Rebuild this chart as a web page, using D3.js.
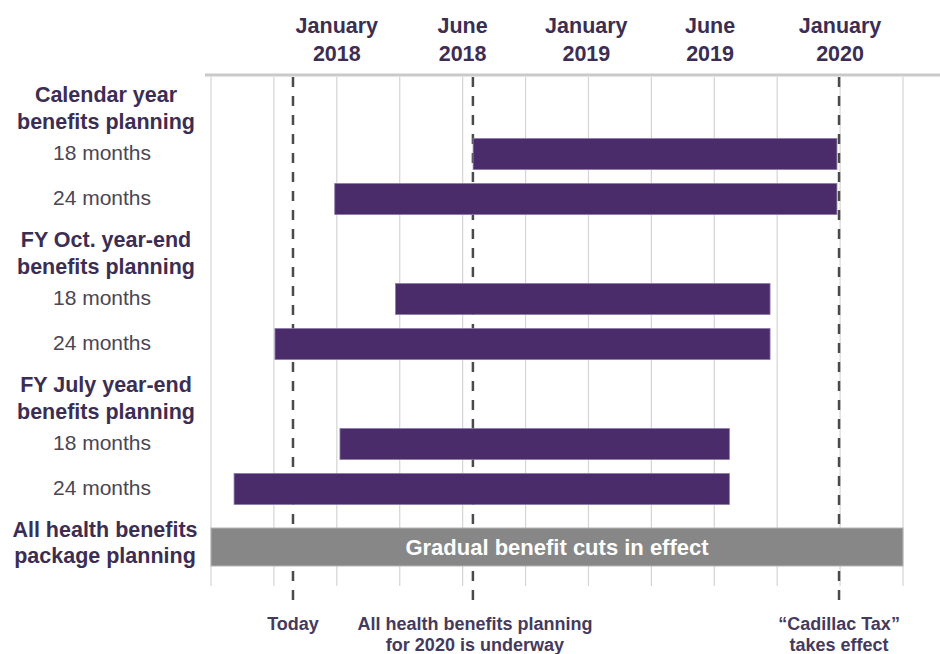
<!DOCTYPE html>
<html>
<head>
<meta charset="utf-8">
<script src="https://cdn.jsdelivr.net/npm/d3@7"></script>
<style>
  html, body { margin: 0; padding: 0; background: #ffffff; }
  svg { display: block; }
  text { font-family: "Liberation Sans", Arial, sans-serif; }
</style>
</head>
<body>
<svg id="chart" width="940" height="654"></svg>
<script>
// ---------- DATA (months counted from July 2017 = 0) ----------
const gridTicks = [0, 3, 6, 9, 12, 15, 18, 21, 24, 27, 30, 33];
const topTickValues = [6, 12, 17.9, 23.8, 30];
const topTickLabels = [["January", "2018"], ["June", "2018"], ["January", "2019"], ["June", "2019"], ["January", "2020"]];

const groupLabels = [
  ["Calendar year", "benefits planning"],
  ["FY Oct. year-end", "benefits planning"],
  ["FY July year-end", "benefits planning"]
];
const barLabels = ["18 months", "24 months"];
// start / end (months) for each group: [18 months, 24 months]
const barStarts = [[12.5, 5.9], [8.8, 3.05], [6.15, 1.1]];
const barEnds = [[29.85, 29.85], [26.66, 26.66], [24.72, 24.72]];

const packageLabel = ["All health benefits", "package planning"];
const packageStart = 0;
const packageEnd = 33;
const packageText = "Gradual benefit cuts in effect";

const markerValues = [3.91, 12.49, 29.95];
const markerLabels = [["Today"], ["All health benefits planning", "for 2020 is underway"], ["\u201CCadillac Tax\u201D", "takes effect"]];

// ---------- LAYOUT ----------
const svg = d3.select("#chart");
const x = d3.scaleLinear().domain([0, 33]).range([211, 903]);
// group index -> header centre y
const gy = d3.scaleLinear().domain([0, 1]).range([108, 253]);
const barOffset = d3.scaleLinear().domain([0, 1]).range([46, 91]);
const barH = 31, pkgH = 38;
const plotTop = 77, gridBottom = 586, markerBottom = 604;

const headColor = "#3c2d52";
const barColor = "#4a2c6a";

// top rule
svg.append("line")
  .attr("x1", 205).attr("x2", 940).attr("y1", 75).attr("y2", 75)
  .attr("stroke", "#c9c9c9").attr("stroke-width", 3);

// grid lines
svg.append("g").selectAll("line").data(gridTicks).join("line")
  .attr("x1", d => x(d)).attr("x2", d => x(d))
  .attr("y1", plotTop).attr("y2", gridBottom)
  .attr("stroke", "#d4d4d4").attr("stroke-width", 1.2);

// top tick labels
const tl = svg.append("g").selectAll("text").data(topTickValues).join("text")
  .attr("x", d => x(d)).attr("text-anchor", "middle")
  .attr("font-size", 21.5).attr("font-weight", "bold").attr("fill", headColor);
tl.each(function(d, i) {
  const t = d3.select(this);
  topTickLabels[i].forEach((s, j) => {
    t.append("tspan").attr("x", x(d)).attr("y", 33 + j * 28).text(s);
  });
});

// marker dashed lines
svg.append("g").selectAll("line").data(markerValues).join("line")
  .attr("x1", d => x(d)).attr("x2", d => x(d))
  .attr("y1", plotTop).attr("y2", markerBottom)
  .attr("stroke", "#4a4a4a").attr("stroke-width", 2.5)
  .attr("stroke-dasharray", "10 9");

// group headers and bars
groupLabels.forEach((lab, g) => {
  const hy = gy(g);
  const ht = svg.append("text").attr("text-anchor", "middle")
    .attr("font-size", 21.5).attr("font-weight", "bold").attr("fill", headColor);
  lab.forEach((s, j) => ht.append("tspan").attr("x", 106).attr("y", hy - 6 + j * 27).text(s));

  barLabels.forEach((bl, b) => {
    const cy = hy + barOffset(b);
    svg.append("text").attr("x", 102).attr("y", cy + 6)
      .attr("text-anchor", "middle").attr("font-size", 21)
      .attr("fill", "#4a4652").text(bl);
    svg.append("rect")
      .attr("x", x(barStarts[g][b])).attr("y", cy - barH / 2)
      .attr("width", x(barEnds[g][b]) - x(barStarts[g][b])).attr("height", barH)
      .attr("fill", barColor).attr("stroke", "#8c7ba8").attr("stroke-width", 0.8);
  });
});

// package planning row
const py = gy(3);
const pt = svg.append("text").attr("text-anchor", "middle")
  .attr("font-size", 21.5).attr("font-weight", "bold").attr("fill", headColor);
packageLabel.forEach((s, j) => pt.append("tspan").attr("x", 105).attr("y", py - 6 + j * 26).text(s));
svg.append("rect")
  .attr("x", x(packageStart)).attr("y", py + 4 - pkgH / 2)
  .attr("width", x(packageEnd) - x(packageStart)).attr("height", pkgH)
  .attr("fill", "#878787").attr("stroke", "#b5b5b5").attr("stroke-width", 1);
svg.append("text")
  .attr("x", (x(packageStart) + x(packageEnd)) / 2).attr("y", py + 12)
  .attr("text-anchor", "middle").attr("font-size", 22).attr("font-weight", "bold")
  .attr("fill", "#ffffff").text(packageText);

// bottom marker labels
markerValues.forEach((v, i) => {
  const t = svg.append("text").attr("text-anchor", "middle")
    .attr("font-size", 18).attr("font-weight", "bold").attr("fill", "#453a5c");
  markerLabels[i].forEach((s, j) => t.append("tspan").attr("x", x(v) + (i === 1 ? 2 : 0)).attr("y", 630 + j * 21).text(s));
});
</script>
</body>
</html>
